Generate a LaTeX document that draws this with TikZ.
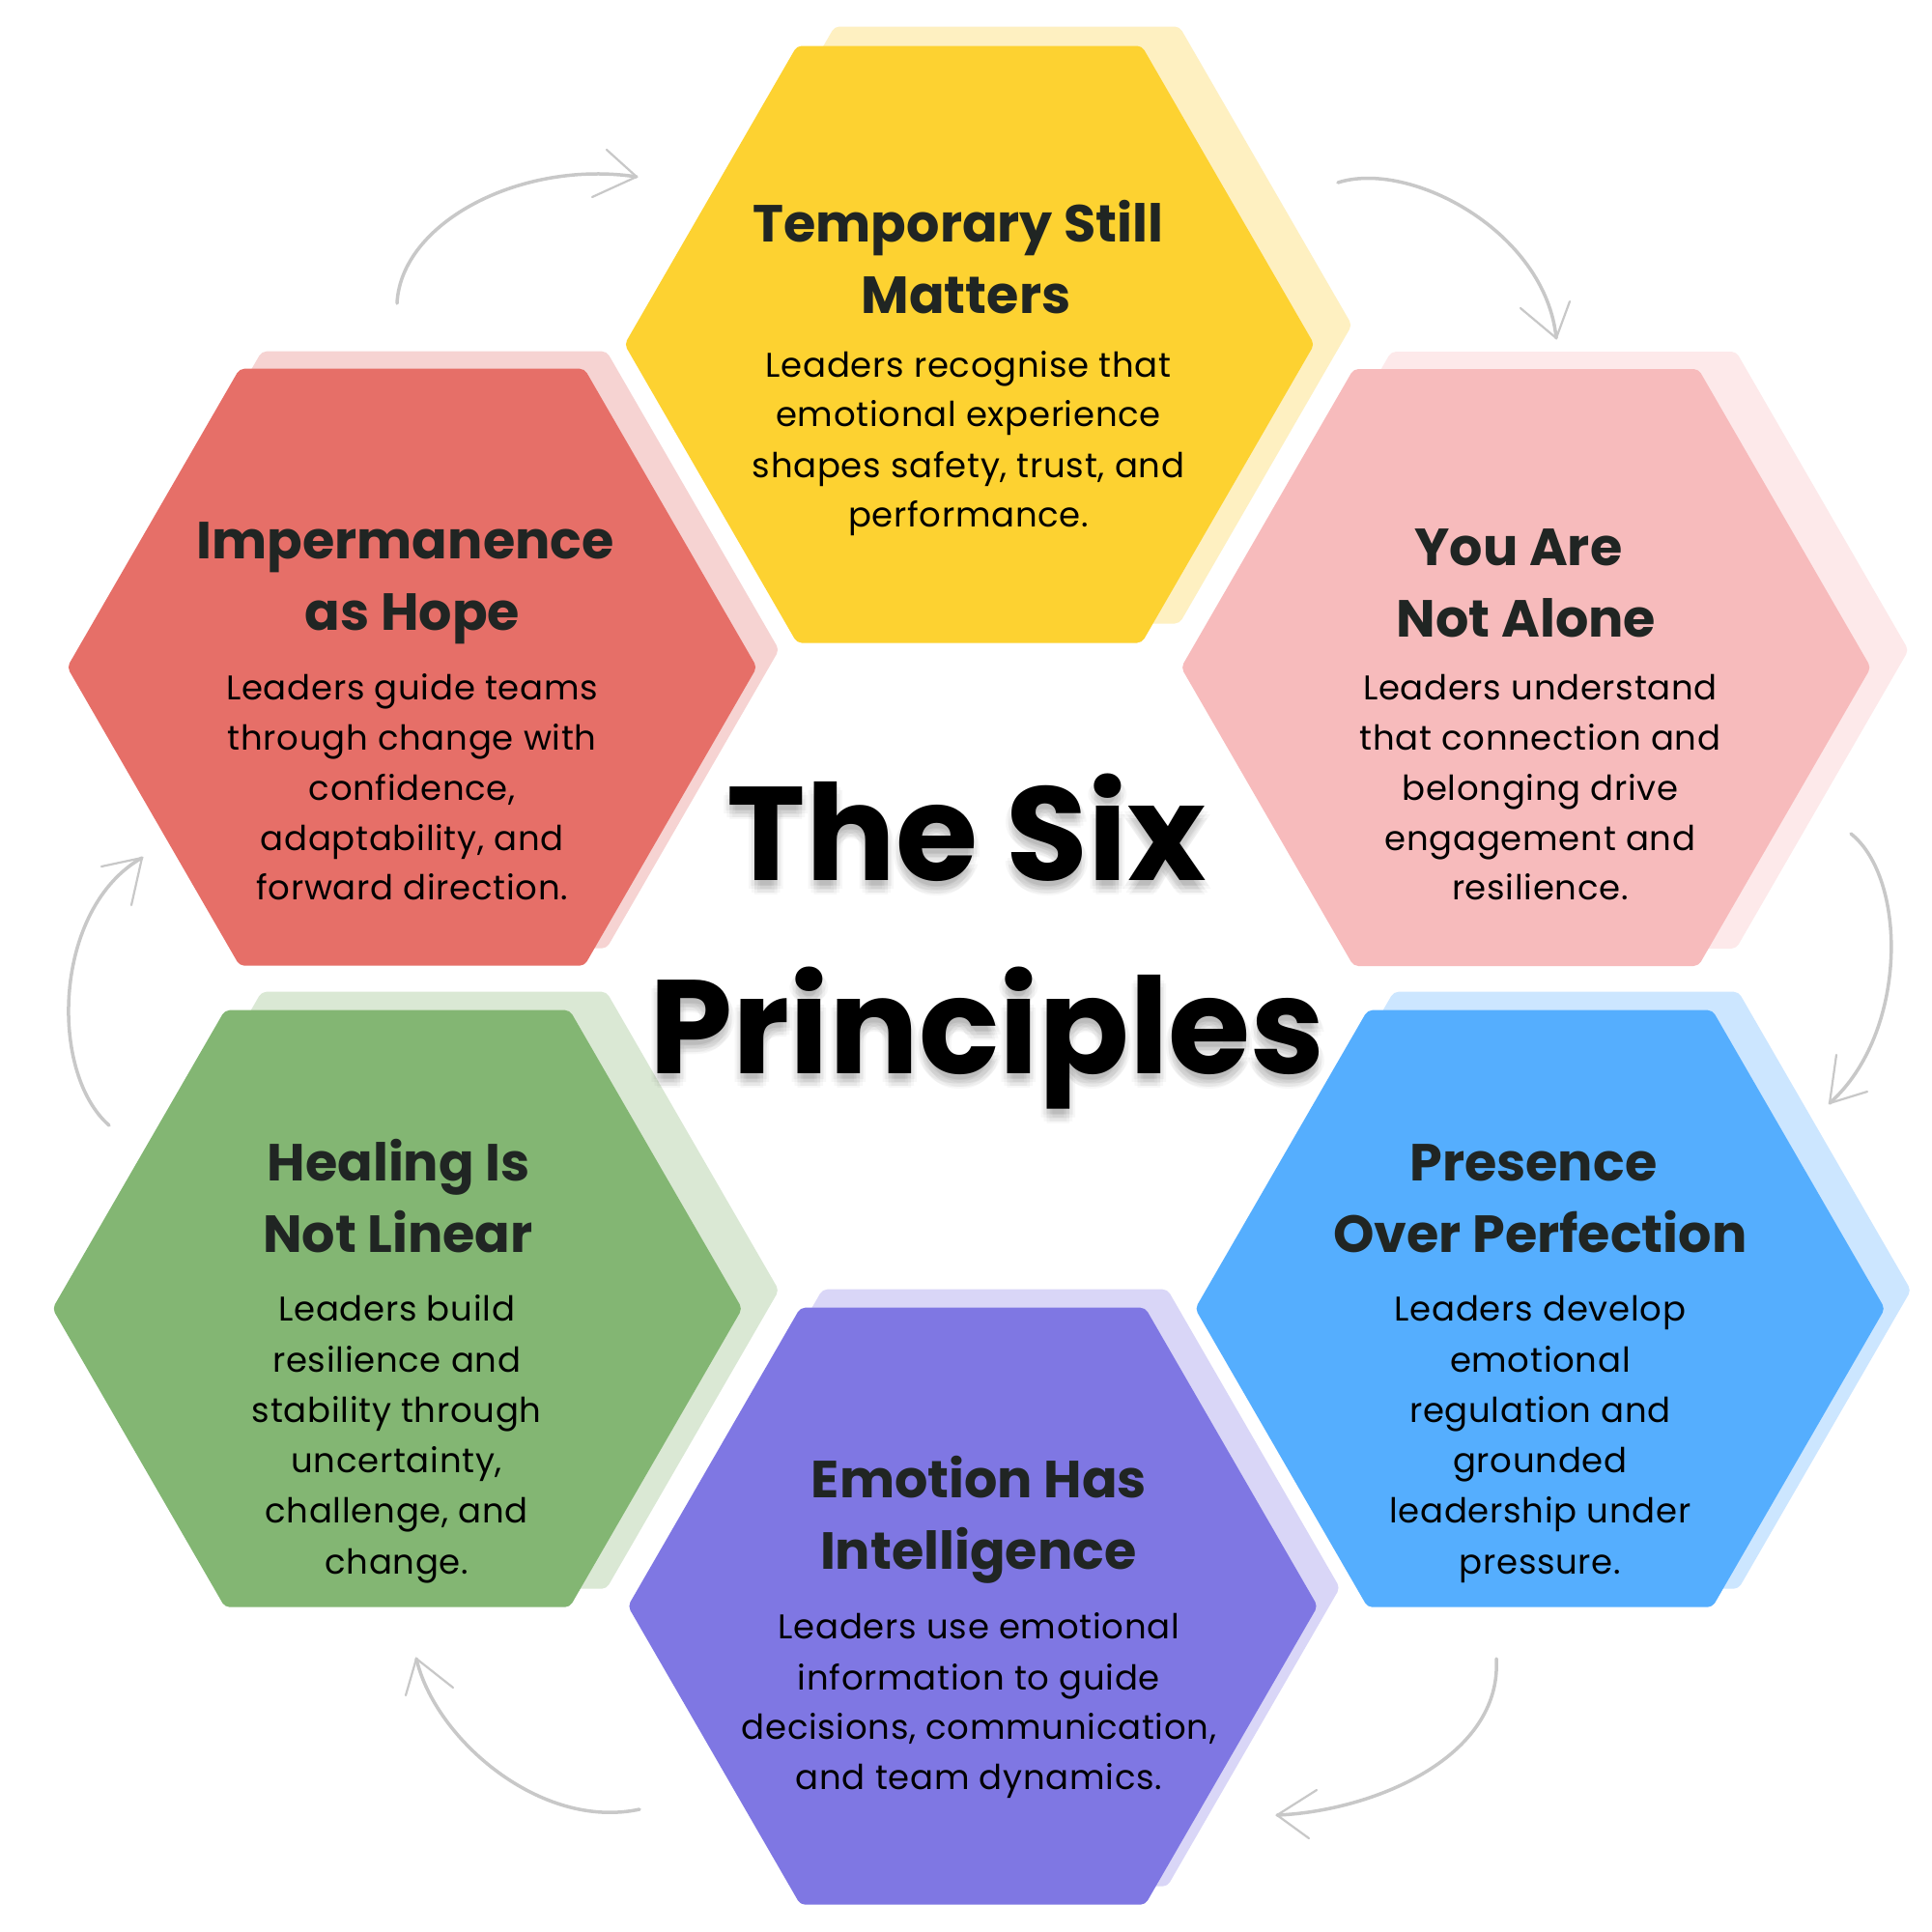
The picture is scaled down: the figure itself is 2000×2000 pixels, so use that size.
\documentclass[tikz,border=0pt]{standalone}
\usepackage{fontspec}
\setmainfont{Poppins}
\definecolor{yelM}{HTML}{FDD231}
\definecolor{yelS}{HTML}{FEF0C1}
\definecolor{redM}{HTML}{E66F68}
\definecolor{redS}{HTML}{F6D3D2}
\definecolor{pinkM}{HTML}{F7BBBC}
\definecolor{pinkS}{HTML}{FDE9EA}
\definecolor{grnM}{HTML}{83B673}
\definecolor{grnS}{HTML}{DAE8D4}
\definecolor{bluM}{HTML}{55AEFE}
\definecolor{bluS}{HTML}{CCE6FF}
\definecolor{purM}{HTML}{7F77E3}
\definecolor{purS}{HTML}{D9D6F7}
\definecolor{titlec}{HTML}{202523}
\definecolor{arrowc}{HTML}{C8C8C8}
\newcommand\hexat[3]{%
  \fill[#3, rounded corners=5pt] (#1-357,#2) -- (#1-178.5,#2-309) -- (#1+178.5,#2-309) -- (#1+357,#2) -- (#1+178.5,#2+309) -- (#1-178.5,#2+309) -- cycle;}
\begin{document}
\begin{tikzpicture}[x=1pt,y=-1pt,
  ttl/.style={font=\fontsize{54}{73.5}\selectfont\bfseries, text=titlec, inner sep=0pt, anchor=base},
  bdy/.style={font=\fontsize{35.5}{51.5}\selectfont\addfontfeature{LetterSpace=2}, text=black, inner sep=0pt, anchor=base},
  big/.style={font=\fontsize{138}{200}\selectfont\bfseries, inner sep=0pt, anchor=base},
  bigshadow/.style={big, text=black, text opacity=0.03},
  arr/.style={draw=arrowc, line width=3.5pt, line cap=round},
  arrhead/.style={draw=arrowc, line width=2.2pt, line cap=round}]
\fill[white] (0,0) rectangle (2000,2000);
\useasboundingbox (0,0) rectangle (2000,2000);

% shadows
\hexat{1042.5}{336.5}{yelS}
\hexat{449.5}{672.7}{redS}
\hexat{1618.7}{673}{pinkS}
\hexat{449.3}{1335.7}{grnS}
\hexat{1621.2}{1335.7}{bluS}
\hexat{1030}{1643.7}{purS}
% main hexagons
\hexat{1003.5}{356.5}{yelM}
\hexat{426.5}{690.7}{redM}
\hexat{1579.7}{691}{pinkM}
\hexat{411.3}{1354.7}{grnM}
\hexat{1594.2}{1354.7}{bluM}
\hexat{1007}{1662.7}{purM}

% yellow
\node[ttl] (y1) at (992,250.7) {Temporary Still};
\node[ttl] (y2) at (1000,324) {Matters};
\node[bdy] (y3) at (1002.5,390.7) {Leaders recognise that};
\node[bdy] (y4) at (1002.5,441.7) {emotional experience};
\node[bdy] (y5) at (1002.5,494) {shapes safety, trust, and};
\node[bdy] (y6) at (1002.5,545) {performance.};
% red
\node[ttl] (r1) at (419.6,578.2) {Impermanence};
\node[ttl] (r2) at (427,652.2) {as Hope};
\node[bdy] (r3) at (426.7,724.9) {Leaders guide teams};
\node[bdy] (r4) at (426.7,776) {through change with};
\node[bdy] (r5) at (426.7,828.2) {confidence,};
\node[bdy] (r6) at (426.7,880.5) {adaptability, and};
\node[bdy] (r7) at (426.7,931.5) {forward direction.};
% pink
\node[ttl] (p1) at (1572,585.8) {You Are};
\node[ttl] (p2) at (1580,659.8) {Not Alone};
\node[bdy] (p3) at (1594.4,724.9) {Leaders understand};
\node[bdy] (p4) at (1594.4,776) {that connection and};
\node[bdy] (p5) at (1594.4,828.2) {belonging drive};
\node[bdy] (p6) at (1594.4,880.5) {engagement and};
\node[bdy] (p7) at (1594.4,931.5) {resilience.};
% green
\node[ttl] (g1) at (412.6,1222.3) {Healing Is};
\node[ttl] (g2) at (412,1296.3) {Not Linear};
\node[bdy] (g3) at (410.7,1367.8) {Leaders build};
\node[bdy] (g4) at (410.7,1420.1) {resilience and};
\node[bdy] (g5) at (410.7,1472.3) {stability through};
\node[bdy] (g6) at (410.7,1524.6) {uncertainty,};
\node[bdy] (g7) at (410.7,1576.9) {challenge, and};
\node[bdy] (g8) at (410.7,1629.2) {change.};
% blue
\node[ttl] (b1) at (1587.4,1222.3) {Presence};
\node[ttl] (b2) at (1594.4,1296.3) {Over Perfection};
\node[bdy] (b3) at (1594.4,1367.8) {Leaders develop};
\node[bdy] (b4) at (1594.4,1420.1) {emotional};
\node[bdy] (b5) at (1594.4,1472.3) {regulation and};
\node[bdy] (b6) at (1594.4,1524.6) {grounded};
\node[bdy] (b7) at (1594.4,1576.9) {leadership under};
\node[bdy] (b8) at (1594.4,1629.2) {pressure.};
% purple
\node[ttl] (u1) at (1013.4,1550.1) {Emotion Has};
\node[ttl] (u2) at (1012.8,1624.1) {Intelligence};
\node[bdy] (u3) at (1013.4,1696.9) {Leaders use emotional};
\node[bdy] (u4) at (1013.4,1749.1) {information to guide};
\node[bdy] (u5) at (1013.4,1800.2) {decisions, communication,};
\node[bdy] (u6) at (1013.4,1852.5) {and team dynamics.};

% centre title with soft shadow
\foreach \dx/\dy in {0/5, 4/6, -4/6, 6/9, -6/9, 0/10, 3/13, -3/13, 0/15} {
  \node[bigshadow] at (1000.5+\dx,911.7+\dy) {The Six};
  \node[bigshadow] at (1022+\dx,1111+\dy) {Principles};
}
\node[big] (c1) at (1000.5,911.7) {The Six};
\node[big] (c2) at (1022,1111) {Principles};

% arrows
\coordinate (a1s) at (411,314);   \coordinate (a1e) at (659,183);
\coordinate (a2s) at (1385,189);  \coordinate (a2e) at (1611,350);
\coordinate (a3s) at (1916,863);  \coordinate (a3e) at (1894,1142);
\coordinate (a4s) at (1549,1717); \coordinate (a4e) at (1322,1879);
\coordinate (a5s) at (662,1873);  \coordinate (a5e) at (431,1717);
\coordinate (a6s) at (113,1165);  \coordinate (a6e) at (147,888);
\draw[arr] (a1s) .. controls (415,230) and (540,165) .. (a1e);
\draw[arrhead] (a1e) -- (628,155); \draw[arrhead] (a1e) -- (613,204);
\draw[arr] (a2s) .. controls (1460,165) and (1600,240) .. (a2e);
\draw[arrhead] (a2e) -- (1574,319); \draw[arrhead] (a2e) -- (1625,312);
\draw[arr] (a3s) .. controls (1975,910) and (1975,1070) .. (a3e);
\draw[arrhead] (a3e) -- (1901,1092); \draw[arrhead] (a3e) -- (1933,1130);
\draw[arr] (a4s) .. controls (1555,1820) and (1420,1875) .. (a4e);
\draw[arrhead] (a4e) -- (1363,1853); \draw[arrhead] (a4e) -- (1355,1903);
\draw[arr] (a5s) .. controls (560,1895) and (450,1800) .. (a5e);
\draw[arrhead] (a5e) -- (420,1755); \draw[arrhead] (a5e) -- (469,1747);
\draw[arr] (a6s) .. controls (50,1110) and (55,940) .. (a6e);
\draw[arrhead] (a6e) -- (105,897); \draw[arrhead] (a6e) -- (136,937);
\end{tikzpicture}
\end{document}
